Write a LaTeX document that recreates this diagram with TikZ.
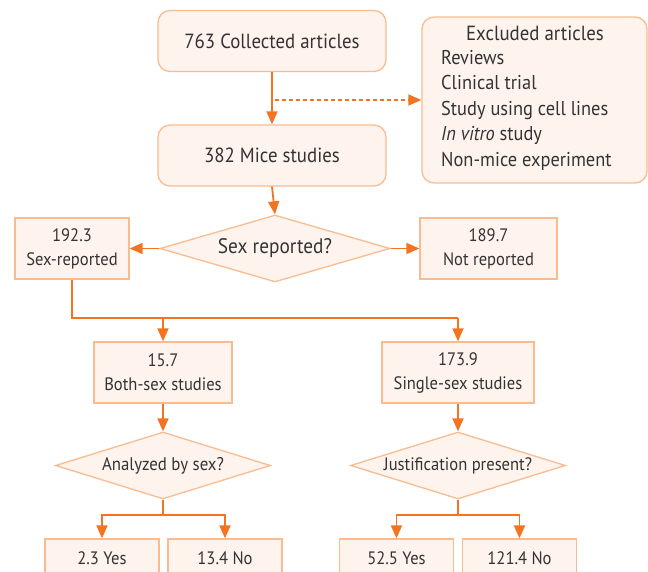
\documentclass[tikz,border=0pt]{standalone}
\usepackage{fontspec}
\setmainfont[FakeStretch=0.92]{PT Sans}
\usetikzlibrary{shapes.geometric,arrows.meta}
\definecolor{bordc}{HTML}{F8BC90}
\definecolor{fillc}{HTML}{FEF4ED}
\definecolor{ocol}{HTML}{F47321}
\definecolor{txtc}{HTML}{333333}
\begin{document}
\begin{tikzpicture}[x=1pt,y=-1pt,
  rbox/.style={draw=bordc,fill=fillc,line width=1.3pt,rounded corners=12pt,text=txtc,font=\fontsize{20.5}{24}\selectfont,inner sep=0pt,minimum width=228pt,minimum height=61pt},
  sbox/.style={draw=bordc,fill=fillc,line width=1.3pt,text=txtc,font=\fontsize{18}{24}\selectfont,align=center,inner sep=0pt,minimum height=61pt},
  lowbox/.style={sbox,minimum width=114pt,minimum height=38pt},
  dia/.style={diamond,draw=bordc,fill=fillc,line width=1.3pt,text=txtc,inner sep=0pt,aspect=3.4},
  arrw/.style={draw=ocol,line width=1.8pt,-{Triangle[length=13pt,width=11pt]}},
  darrw/.style={draw=ocol,line width=1.5pt,dash pattern=on 4pt off 3pt,-{Triangle[length=13pt,width=11pt]}},
  conn/.style={draw=ocol,line width=1.8pt}]
\clip (0,0) rectangle (648,572);
% top boxes
\node[rbox] (c1) at (272,41) {763 Collected articles};
\node[rbox] (c2) at (272,155.5) {382 Mice studies};
\node[draw=bordc,fill=fillc,line width=1.3pt,rounded corners=12pt,minimum width=225pt,minimum height=166pt,inner sep=0pt] (exc) at (534.5,100) {};
\node[text=txtc,font=\fontsize{20.5}{24}\selectfont,inner sep=0pt] (exct) at (535,33) {Excluded articles};
\node[text=txtc,font=\fontsize{20}{25.5}\selectfont,inner sep=0pt,align=left,anchor=west] (excl) at (441,110)
  {Reviews\\Clinical trial\\Study using cell lines\\\textit{In vitro} study\\Non-mice experiment};
% diamond 1
\node[dia,minimum width=230pt,minimum height=67pt,font=\fontsize{21}{24}\selectfont] (d1) at (275,248.5) {Sex reported?};
\node[sbox,minimum width=114pt] (b1) at (72,248.5) {192.3\\Sex-reported};
\node[sbox,minimum width=137pt] (b2) at (488.5,248.5) {189.7\\Not reported};
% second level
\node[sbox,minimum width=138pt] (b3) at (163,372.5) {15.7\\Both-sex studies};
\node[sbox,minimum width=152pt] (b4) at (458,372.5) {173.9\\Single-sex studies};
\node[dia,minimum width=215pt,minimum height=67pt,font=\fontsize{18.3}{22}\selectfont] (d2) at (163,465.5) {Analyzed by sex?};
\node[dia,minimum width=215pt,minimum height=67pt,font=\fontsize{18}{22}\selectfont] (d3) at (458,465.5) {Justification present?};
% bottom
\node[lowbox] (b5) at (102,558) {2.3 Yes};
\node[lowbox] (b6) at (225,558) {13.4 No};
\node[lowbox] (b7) at (396.5,558) {52.5 Yes};
\node[lowbox] (b8) at (519.5,558) {121.4 No};
% connectors
\draw[arrw] (c1.south) -- (c2.north);
\draw[darrw] ([xshift=3pt]c1.south |- exc.west) -- (exc.west);
\draw[arrw] (c2.south) -- (d1.north);
\draw[arrw] (d1.west) -- (b1.east);
\draw[arrw] (d1.east) -- (b2.west);
\draw[conn] (b1.south) |- (b4.north |- 0,318);
\draw[arrw] (b3.north |- 0,318) -- (b3.north);
\draw[arrw] (b4.north |- 0,318) -- (b4.north);
\draw[arrw] (b3.south) -- (d2.north);
\draw[arrw] (b4.south) -- (d3.north);
\draw[conn] (d2.south) -- (d2.south |- 0,515);
\draw[arrw] (d2.south |- 0,515) -| (b5.north);
\draw[arrw] (d2.south |- 0,515) -| (b6.north);
\draw[conn] (d3.south) -- (d3.south |- 0,515);
\draw[arrw] (d3.south |- 0,515) -| (b7.north);
\draw[arrw] (d3.south |- 0,515) -| (b8.north);
\end{tikzpicture}
\end{document}
